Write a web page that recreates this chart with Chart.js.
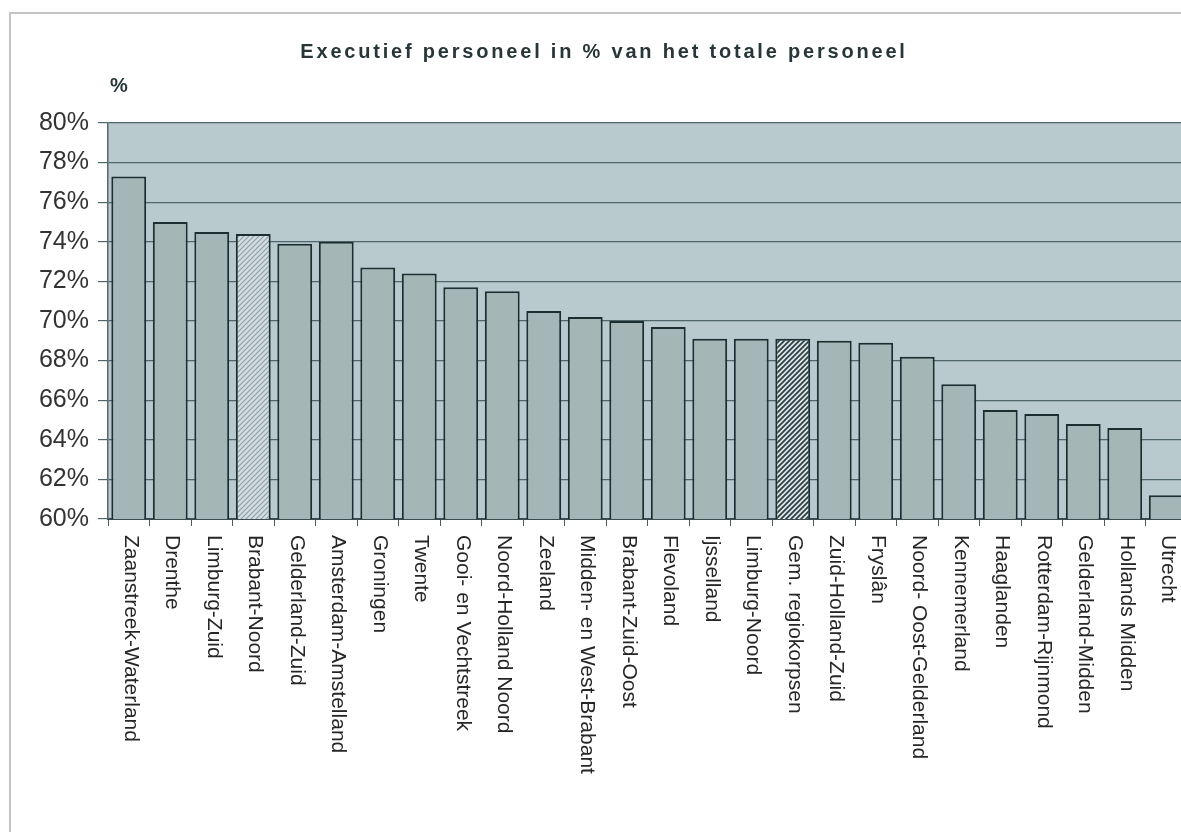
<!DOCTYPE html>
<html>
<head>
<meta charset="utf-8">
<script src="https://cdn.jsdelivr.net/npm/chart.js@4/dist/chart.umd.min.js"></script>
<style>
html,body{margin:0;padding:0;background:#fff;overflow:hidden;}
#wrap{position:absolute;left:0;top:0;width:1200px;height:832px;}
</style>
</head>
<body>
<div id="wrap"><canvas id="c" width="1200" height="832"></canvas></div>
<script>
const categories = [
  "Zaanstreek-Waterland","Drenthe","Limburg-Zuid","Brabant-Noord","Gelderland-Zuid",
  "Amsterdam-Amstelland","Groningen","Twente","Gooi- en Vechtstreek","Noord-Holland Noord",
  "Zeeland","Midden- en West-Brabant","Brabant-Zuid-Oost","Flevoland","Ijsselland",
  "Limburg-Noord","Gem. regiokorpsen","Zuid-Holland-Zuid","Fryslân","Noord- Oost-Gelderland",
  "Kennemerland","Haaglanden","Rotterdam-Rijnmond","Gelderland-Midden","Hollands Midden","Utrecht"
];
const executiefPct = [
  77.3, 75.0, 74.5, 74.4, 73.9,
  74.0, 72.7, 72.4, 71.7, 71.5,
  70.5, 70.2, 70.0, 69.7, 69.1,
  69.1, 69.1, 69.0, 68.9, 68.2,
  66.8, 65.5, 65.3, 64.8, 64.6, 61.2
];
const yTicks = [60, 62, 64, 66, 68, 70, 72, 74, 76, 78, 80];
const lightHatched = ["Brabant-Noord"];
const darkHatched = ["Gem. regiokorpsen"];
const chartTitle = "Executief personeel in % van het totale personeel";
const unitLabel = "%";

function makePattern(bg, line, lw) {
  const s = 5;
  const p = document.createElement('canvas');
  p.width = s; p.height = s;
  const g = p.getContext('2d');
  g.fillStyle = bg; g.fillRect(0, 0, s, s);
  g.strokeStyle = line; g.lineWidth = lw;
  g.beginPath();
  g.moveTo(-1, s + 1); g.lineTo(s + 1, -1);
  g.moveTo(-1, 1); g.lineTo(1, -1);
  g.moveTo(s - 1, s + 1); g.lineTo(s + 1, s - 1);
  g.stroke();
  return g.createPattern(p, 'repeat');
}
const ctx0 = document.getElementById('c').getContext('2d');
const lightPat = makePattern('#d3dde0', '#8fa0a3', 1.2);
const darkPat = makePattern('#dfe7e9', '#2e4245', 1.8);

const barColors = categories.map(c =>
  lightHatched.includes(c) ? lightPat : (darkHatched.includes(c) ? darkPat : '#a5b6b6'));

const decor = {
  id: 'decor',
  beforeDraw(chart) {
    const {ctx, chartArea: a} = chart;
    ctx.save();
    ctx.fillStyle = '#b9cacf';
    ctx.fillRect(a.left, a.top, a.right - a.left, a.bottom - a.top);
    ctx.strokeStyle = '#c4c4c4';
    ctx.lineWidth = 2;
    ctx.strokeRect(10, 13, 1400, 1000);
    ctx.restore();
  },
  afterDraw(chart) {
    const {ctx} = chart;
    ctx.save();
    ctx.fillStyle = '#283639';
    ctx.font = 'bold 20px "Liberation Sans", Arial, sans-serif';
    try { ctx.letterSpacing = '2.8px'; } catch (e) {}
    ctx.textAlign = 'center';
    ctx.textBaseline = 'alphabetic';
    ctx.fillText(chartTitle, 604, 58);
    try { ctx.letterSpacing = '0px'; } catch (e) {}
    ctx.textAlign = 'left';
    ctx.font = 'bold 20px "Liberation Sans", Arial, sans-serif';
    ctx.fillText(unitLabel, 110, 92);
    // x labels, rotated clockwise
    const xs = chart.scales.x;
    ctx.font = '21px "Liberation Sans", Arial, sans-serif';
    ctx.fillStyle = '#262626';
    ctx.textBaseline = 'middle';
    categories.forEach((lab, i) => {
      const x = xs.getPixelForValue(i) + 2;
      ctx.save();
      ctx.translate(x, 535);
      ctx.rotate(Math.PI / 2);
      ctx.fillText(lab, 0, 0);
      ctx.restore();
    });
    ctx.restore();
  }
};

new Chart(ctx0, {
  type: 'bar',
  data: {
    labels: categories,
    datasets: [{
      data: executiefPct,
      backgroundColor: barColors,
      borderColor: '#1d2e30',
      borderWidth: 2,
      borderSkipped: 'bottom',
      barPercentage: 0.84,
      categoryPercentage: 1.0
    }]
  },
  options: {
    responsive: false,
    animation: false,
    layout: {padding: {top: 123, right: 13, bottom: 0, left: 0}},
    plugins: {legend: {display: false}, title: {display: false}, tooltip: {enabled: false}},
    scales: {
      x: {
        ticks: {display: false},
        grid: {display: true, drawOnChartArea: false, drawTicks: true, tickLength: 7, color: '#4a5e61', offset: true},
        border: {display: true, color: '#3a4c4f', width: 2},
        afterFit(scale) { scale.height = 313; }
      },
      y: {
        min: yTicks[0],
        max: yTicks[yTicks.length - 1],
        afterBuildTicks(scale) { scale.ticks = yTicks.map(v => ({value: v})); },
        ticks: {
          callback: v => v + '%',
          font: {family: '"Liberation Sans", Arial, sans-serif', size: 25},
          color: '#333',
          padding: 9
        },
        grid: {color: '#4f666a', lineWidth: 1.2, tickLength: 10},
        border: {display: true, color: '#56696c', width: 1.5},
        afterFit(scale) { scale.width = 108; }
      }
    }
  },
  plugins: [decor]
});
</script>
</body>
</html>
